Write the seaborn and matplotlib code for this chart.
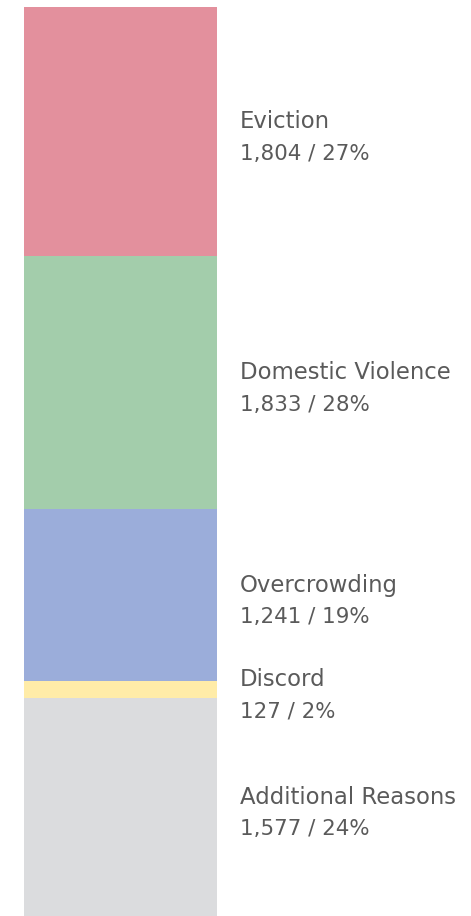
import matplotlib
matplotlib.use("Agg")
import matplotlib.pyplot as plt
import numpy as np
import seaborn as sns

reasons = ["Eviction", "Domestic Violence", "Overcrowding", "Discord", "Additional Reasons"]
counts = [1804, 1833, 1241, 127, 1577]
shares = [27, 28, 19, 2, 24]
colors = ["#E3909D", "#A3CDAB", "#9BADDA", "#FFECA8", "#DBDCDE"]

sns.set_style("white")
plt.rcParams["font.family"] = ["DejaVu Sans"]

fig = plt.figure(figsize=(4.71, 9.16), dpi=100)
ax = fig.add_axes([24 / 471, 0, 193 / 471, 909 / 916])

total = sum(counts)
# stack from the bottom: Additional Reasons at bottom, Eviction on top
order = list(range(len(reasons)))[::-1]
tops = np.cumsum([counts[i] for i in order])
# draw tallest cumulative bar first, then smaller ones over it
for k in range(len(order) - 1, -1, -1):
    i = order[k]
    sns.barplot(x=[0], y=[tops[k]], color=colors[i], width=1, saturation=1,
                linewidth=0, ax=ax)

ax.set_xlim(-0.5, 0.5)
ax.set_ylim(0, total)
ax.axis("off")

bottoms = tops - np.array([counts[i] for i in order])
for k, i in enumerate(order):
    mid = (bottoms[k] + tops[k]) / 2
    ax.annotate(reasons[i], xy=(1, mid), xycoords=("axes fraction", "data"),
                xytext=(16.6, 7.0), textcoords="offset points",
                ha="left", va="center", fontsize=16.4, color="#5a5a5a",
                annotation_clip=False)
    ax.annotate(f"{counts[i]:,} / {shares[i]}%", xy=(1, mid),
                xycoords=("axes fraction", "data"),
                xytext=(16.6, -16.0), textcoords="offset points",
                ha="left", va="center", fontsize=15.4, color="#5a5a5a",
                annotation_clip=False)

fig.savefig("out.png", dpi=100)
